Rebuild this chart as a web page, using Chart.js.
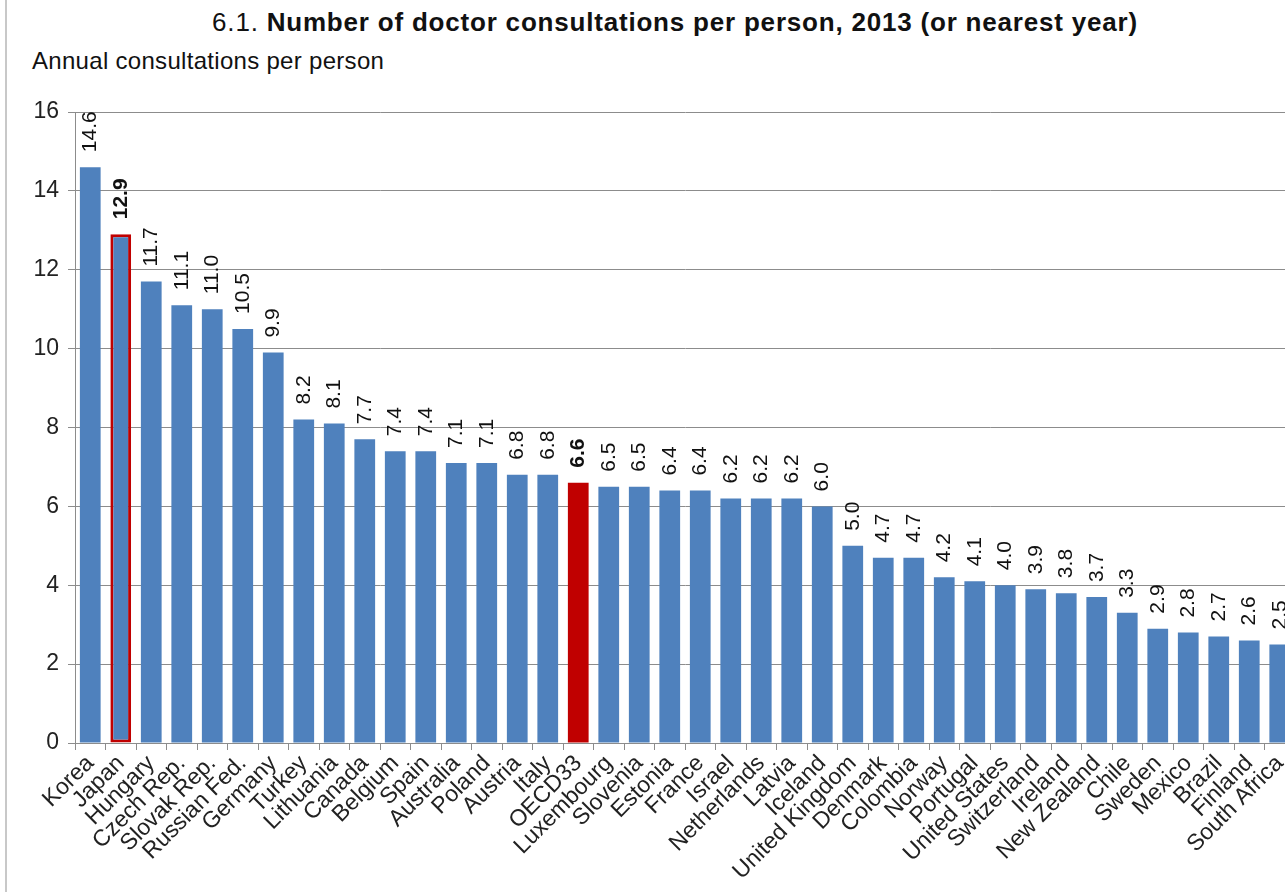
<!DOCTYPE html>
<html>
<head>
<meta charset="utf-8">
<script src="https://cdn.jsdelivr.net/npm/chart.js@4.4.0/dist/chart.umd.min.js"></script>
<style>
  html, body { margin: 0; padding: 0; background: #fff; overflow: hidden; }
  #wrap { position: relative; width: 1285px; height: 892px; overflow: hidden; }
  #frame { position: absolute; left: 5px; top: 0; width: 2px; height: 892px; background: #c8c8c8; }
  #title { position: absolute; left: 0; top: 7px; width: 1350px; text-align: center;
           font: bold 26px "Liberation Sans", Arial, sans-serif; letter-spacing: 0.8px; color: #111; }
  #title span { font-weight: normal; }
  #caption { position: absolute; left: 32px; top: 47px; letter-spacing: 0.3px;
             font: 24px "Liberation Sans", Arial, sans-serif; color: #111; }
  #chart { position: absolute; left: 0; top: 0; }
</style>
</head>
<body>
<div id="wrap">
  <div id="frame"></div>
  <div id="title"><span>6.1. </span>Number of doctor consultations per person, 2013 (or nearest year)</div>
  <div id="caption">Annual consultations per person</div>
  <canvas id="chart" width="1300" height="892"></canvas>
</div>
<script>
// Countries, sorted as in the source figure
const categories = [
  "Korea", "Japan", "Hungary", "Czech Rep.", "Slovak Rep.", "Russian Fed.", "Germany",
  "Turkey", "Lithuania", "Canada", "Belgium", "Spain", "Australia", "Poland", "Austria",
  "Italy", "OECD33", "Luxembourg", "Slovenia", "Estonia", "France", "Israel", "Netherlands",
  "Latvia", "Iceland", "United Kingdom", "Denmark", "Colombia", "Norway", "Portugal",
  "United States", "Switzerland", "Ireland", "New Zealand", "Chile", "Sweden", "Mexico",
  "Brazil", "Finland", "South Africa"
];

// Annual consultations per person, 2013 (or nearest year)
const consultations = [
  14.6, 12.9, 11.7, 11.1, 11.0, 10.5, 9.9,
  8.2, 8.1, 7.7, 7.4, 7.4, 7.1, 7.1, 6.8,
  6.8, 6.6, 6.5, 6.5, 6.4, 6.4, 6.2, 6.2,
  6.2, 6.0, 5.0, 4.7, 4.7, 4.2, 4.1,
  4.0, 3.9, 3.8, 3.7, 3.3, 2.9, 2.8,
  2.7, 2.6, 2.5
];

const yTicks = [0, 2, 4, 6, 8, 10, 12, 14, 16];

const outlined = "Japan";   // red outline
const average = "OECD33";   // red fill

const FONT = '"Liberation Sans", Arial, sans-serif';
const BLUE = '#4f81bd';
const RED = '#c00000';
const GRID = '#8c8c8c';

const fills = categories.map(c => c === average ? RED : BLUE);
const borders = categories.map(c => c === outlined ? RED : BLUE);
const borderWidths = categories.map(c => c === outlined ? 3 : 0);

// value labels written vertically above each bar
const barValueLabels = {
  id: 'barValueLabels',
  afterDatasetsDraw(chart) {
    const ctx = chart.ctx;
    chart.getDatasetMeta(0).data.forEach((bar, i) => {
      const bold = categories[i] === outlined || categories[i] === average;
      ctx.save();
      ctx.translate(bar.x, bar.y - 15);
      ctx.rotate(-Math.PI / 2);
      ctx.font = (bold ? 'bold ' : '') + '21px ' + FONT;
      ctx.fillStyle = '#111';
      ctx.textAlign = 'left';
      ctx.textBaseline = 'middle';
      ctx.fillText(consultations[i].toFixed(1), 0, 0);
      ctx.restore();
    });
  }
};

new Chart(document.getElementById('chart'), {
  type: 'bar',
  data: {
    labels: categories,
    datasets: [{
      data: consultations,
      backgroundColor: fills,
      borderColor: borders,
      borderWidth: borderWidths,
      borderSkipped: false,
      barPercentage: 0.68,
      categoryPercentage: 1
    }]
  },
  options: {
    responsive: false,
    animation: false,
    layout: { padding: { top: 112, right: 5, left: 0, bottom: 0 } },
    plugins: { legend: { display: false }, title: { display: false }, tooltip: { enabled: false } },
    scales: {
      x: {
        grid: { offset: true, drawOnChartArea: false, drawTicks: true, tickLength: 7, color: GRID },
        border: { display: true, color: GRID },
        ticks: {
          autoSkip: false, maxRotation: 45, minRotation: 45, padding: 0,
          color: '#222', font: { family: FONT, size: 23 }
        },
        afterFit(s) { s.height = 149; }
      },
      y: {
        min: yTicks[0],
        max: yTicks[yTicks.length - 1],
        afterBuildTicks(s) { s.ticks = yTicks.map(v => ({ value: v })); },
        grid: { color: GRID, tickLength: 7 },
        border: { display: true, color: GRID },
        ticks: { padding: 9, color: '#222', font: { family: FONT, size: 23 } },
        afterFit(s) { s.width = 75; }
      }
    }
  },
  plugins: [barValueLabels]
});
</script>
</body>
</html>
